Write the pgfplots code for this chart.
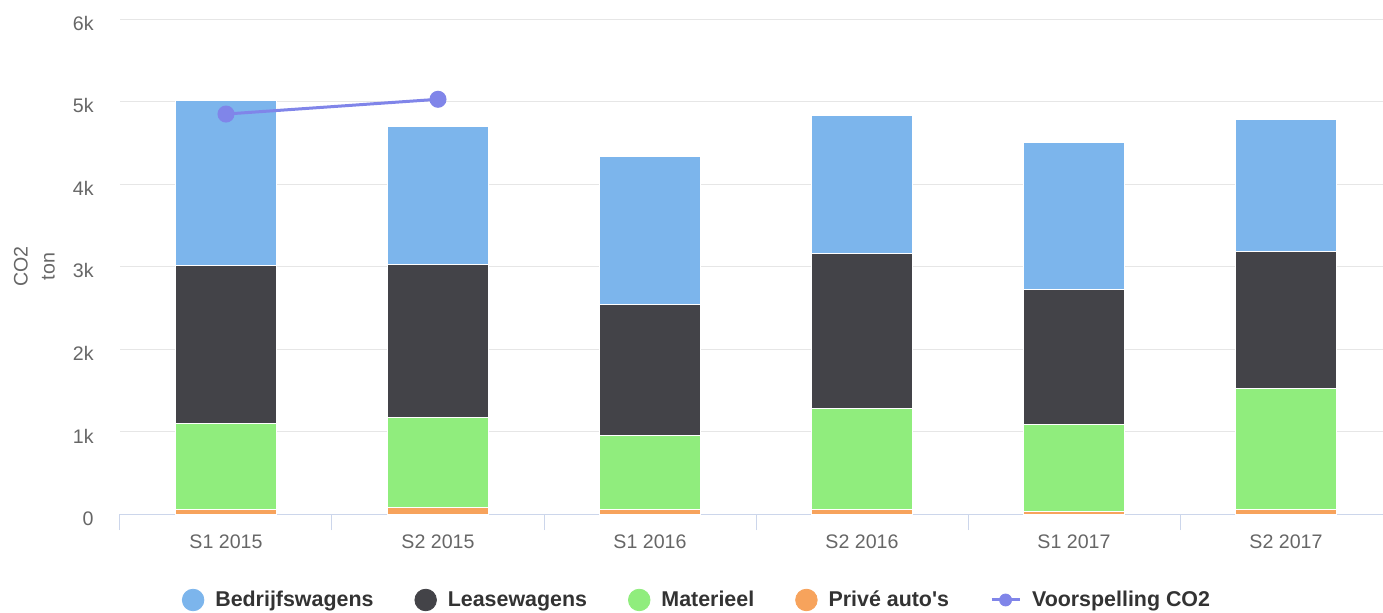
\documentclass[border=0pt]{standalone}
\usepackage{fontspec}
\setmainfont{Liberation Sans}
\usepackage{pgfplots}
\pgfplotsset{compat=1.18}
\definecolor{cbed}{HTML}{7CB5EC}
\definecolor{clea}{HTML}{434348}
\definecolor{cmat}{HTML}{90ED7D}
\definecolor{cpri}{HTML}{F7A35C}
\definecolor{cvoo}{HTML}{8085E9}
\definecolor{axisc}{HTML}{CCD6EB}
\definecolor{gridc}{HTML}{E6E6E6}
\definecolor{txt}{HTML}{666666}
\definecolor{legtxt}{HTML}{333333}
\pgfplotsset{
  common/.style={
    at={(0pt,0pt)}, anchor=south west,
    scale only axis, width=636pt, height=247.5pt,
    xmin=-0.5, xmax=5.5, ymin=0, ymax=6000,
  }
}
\begin{document}
\begin{tikzpicture}
\useasboundingbox (-60pt,-49pt) rectangle (631.5pt,257pt);
\begin{axis}[common,
  axis lines*=left,
  x axis line style={draw=axisc, line width=0.5pt},
  y axis line style={draw=none},
  ymajorgrids, major grid style={draw=gridc, line width=0.5pt},
  ytick={0,1000,2000,3000,4000,5000,6000},
  yticklabels={0,1k,2k,3k,4k,5k,6k},
  ytick style={draw=none},
  yticklabel style={anchor=east, inner sep=0pt, xshift=-13pt, yshift=-2.2pt, font=\fontsize{9.8}{11}\selectfont, text=txt},
  xtick={0,1,2,3,4,5},
  xticklabels={S1 2015,S2 2015,S1 2016,S2 2016,S1 2017,S2 2017},
  xtick style={draw=none},
  major tick length=0pt,
  xticklabel style={anchor=north, inner sep=0pt, yshift=-10.3pt, font=\fontsize{9.8}{11}\selectfont, text=txt},
  extra x ticks={-0.5,0.5,1.5,2.5,3.5,4.5,5.5},
  extra x tick labels={},
  extra x tick style={xtick style={draw=axisc, line width=0.5pt}, major tick length=8pt, tick align=outside, xmajorgrids=false, ymajorgrids=false},
  ylabel={CO2\\ton},
  ylabel style={at={(axis description cs:-0.0674,0.5)}, anchor=center, align=center, font=\fontsize{9.8}{13.5}\selectfont, text=txt},
  ybar stacked, bar width=0.475,
  legend columns=5,
  legend style={at={(0.454,-0.1737)}, anchor=center, draw=none, fill=none,
    font=\bfseries\fontsize{10.7}{12}\selectfont, text=legtxt,
    /tikz/every odd column/.append style={column sep=4pt},
    /tikz/every even column/.append style={column sep=19pt},
    nodes={inner sep=1.5pt}},
]
\addplot[fill=cpri, draw=white, line width=0.5pt, forget plot] coordinates {(0,60) (1,80) (2,57) (3,57) (4,30) (5,57)};
\addplot[fill=cmat, draw=white, line width=0.5pt, forget plot] coordinates {(0,1040) (1,1092) (2,897) (3,1219) (4,1052) (5,1470)};
\addplot[fill=clea, draw=white, line width=0.5pt, forget plot] coordinates {(0,1907) (1,1858) (2,1591) (3,1884) (4,1642) (5,1653)};
\addplot[fill=cbed, draw=white, line width=0.5pt, forget plot] coordinates {(0,2000) (1,1665) (2,1786) (3,1673) (4,1781) (5,1608)};
\addlegendimage{legend image code/.code={\fill[cbed] (0pt,0pt) circle (5.4pt);}}
\addlegendentry{\strut Bedrijfswagens}
\addlegendimage{legend image code/.code={\fill[clea] (0pt,0pt) circle (5.4pt);}}
\addlegendentry{\strut Leasewagens}
\addlegendimage{legend image code/.code={\fill[cmat] (0pt,0pt) circle (5.4pt);}}
\addlegendentry{\strut Materieel}
\addlegendimage{legend image code/.code={\fill[cpri] (0pt,0pt) circle (5.4pt);}}
\addlegendentry{\strut Privé auto\textquotesingle s}
\addlegendimage{legend image code/.code={\draw[cvoo, line width=1.5pt] (-7pt,0pt) -- (7pt,0pt); \fill[cvoo] (0pt,0pt) circle (3pt);}}
\addlegendentry{\strut Voorspelling CO2}
\end{axis}
\begin{axis}[common, hide axis]
\addplot[cvoo, line width=1.5pt, mark=*, mark size=3.5pt, mark options={fill=cvoo, draw=cvoo}] coordinates {(0,4848) (1,5027)};
\end{axis}
\end{tikzpicture}
\end{document}
